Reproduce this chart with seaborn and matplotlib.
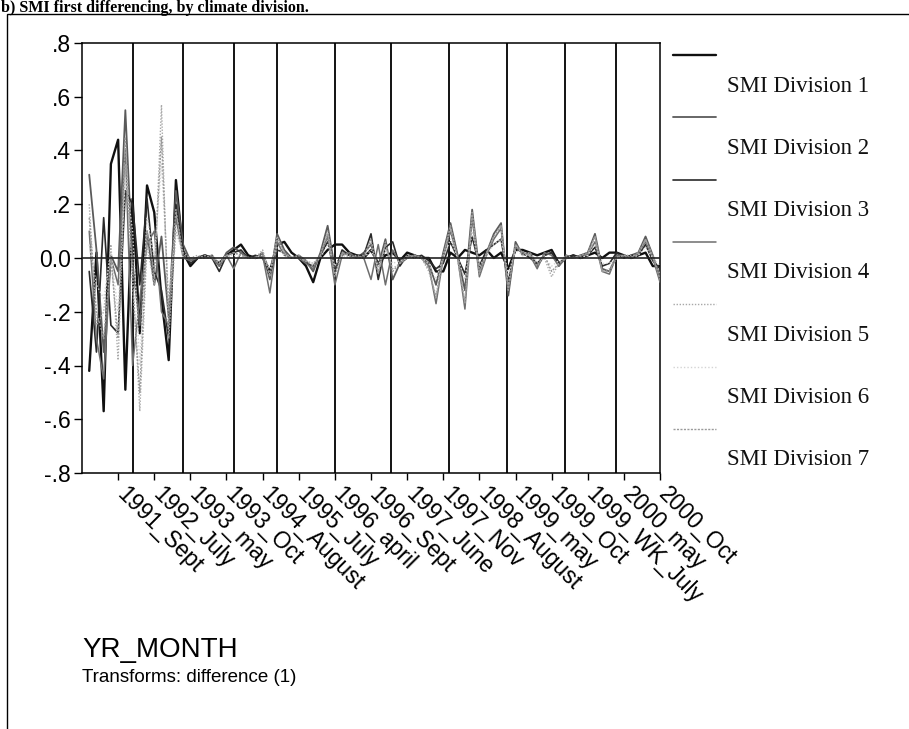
import numpy as np
import pandas as pd
import matplotlib
matplotlib.use("Agg")
import matplotlib.pyplot as plt
from matplotlib.lines import Line2D
from matplotlib.patches import Rectangle
import matplotlib.transforms as mtransforms
import seaborn as sns

# ---------------- data ----------------
divisions = ["SMI Division 1", "SMI Division 2", "SMI Division 3", "SMI Division 4",
             "SMI Division 5", "SMI Division 6", "SMI Division 7"]

tick_labels = ["1991_Sept", "1992_July", "1993_may", "1993_Oct", "1994_August",
               "1995_July", "1996_april", "1996_Sept", "1997_June", "1997_Nov",
               "1998_August", "1999_may", "1999_Oct", "1999_WK_July", "2000_may",
               "2000_Oct"]
tick_every = 5

ytick_vals = [0.8, 0.6, 0.4, 0.2, 0.0, -0.2, -0.4, -0.6, -0.8]
ytick_text = [".8", ".6", ".4", ".2", "0.0", "-.2", "-.4", "-.6", "-.8"]

# reference (year) lines, category positions
ref_lines = [7, 14, 21, 27, 35, 42.7, 50.8, 58.8, 66.8, 73.9]

# first differences (first value missing)
div1 = [-0.42, 0.02, -0.57, 0.35, 0.44, -0.49, 0.22, -0.28, 0.27, 0.17, -0.15, -0.38, 0.29, 0.02,
        -0.03, 0.00, 0.01, 0.00, -0.02, 0.01, 0.03, 0.05, 0.01, 0.00,
        0.01, -0.05, 0.05, 0.06, 0.02, 0.00, -0.03, -0.09, 0.00, 0.03,
        0.05, 0.05, 0.02, 0.01, 0.00, 0.03, -0.02, 0.01, 0.02, -0.01,
        0.02, 0.01, 0.00, 0.00, -0.05, -0.05, 0.02, 0.00, 0.03, 0.02,
        0.01, 0.03, 0.00, 0.02, -0.04, 0.03, 0.03, 0.02, 0.01, 0.02,
        0.03, -0.02, 0.00, 0.01, 0.00, 0.01, 0.02, 0.00, 0.02, 0.02,
        0.01, 0.00, 0.01, 0.02, -0.03, -0.03]
div2 = [0.31, 0.03, -0.35, 0.01, -0.05, 0.55, -0.02, -0.25, 0.10, -0.10, 0.08, -0.22, 0.25, 0.05,
        -0.01, 0.00, 0.00, 0.01, -0.03, 0.02, 0.04, 0.02, 0.00, 0.00,
        0.02, -0.08, 0.09, 0.03, 0.00, 0.01, -0.01, -0.05, 0.02, 0.12,
        -0.04, 0.02, 0.01, 0.00, 0.02, 0.05, -0.03, 0.07, -0.08, -0.02,
        0.00, 0.01, 0.00, -0.02, -0.10, 0.02, 0.13, 0.01, -0.12, 0.18,
        -0.05, 0.02, 0.09, 0.13, -0.14, 0.06, 0.01, 0.02, -0.03, 0.01,
        0.02, -0.03, 0.01, 0.00, 0.01, 0.02, 0.09, -0.04, -0.05, 0.01,
        0.00, 0.01, 0.02, 0.08, 0.01, -0.07]
div3 = [-0.05, -0.35, 0.15, -0.25, -0.28, 0.25, 0.20, -0.10, 0.22, -0.05, -0.12, -0.30, 0.20, 0.03,
        -0.02, 0.00, 0.01, 0.00, -0.05, 0.01, 0.02, 0.03, 0.00, 0.01,
        0.00, -0.06, 0.03, 0.02, 0.00, 0.00, -0.02, -0.03, 0.01, 0.06,
        -0.05, 0.03, 0.01, 0.01, 0.01, 0.09, -0.08, 0.04, 0.06, -0.03,
        0.01, 0.00, 0.01, -0.01, -0.04, -0.02, 0.06, 0.00, -0.06, 0.08,
        -0.03, 0.03, 0.05, 0.07, -0.09, 0.04, 0.02, 0.00, -0.02, 0.01,
        0.02, -0.02, 0.00, 0.01, 0.00, 0.01, 0.04, -0.03, -0.02, 0.02,
        0.00, 0.01, 0.01, 0.05, -0.01, -0.04]
div4 = [0.10, -0.30, -0.45, 0.00, -0.10, 0.40, -0.40, -0.15, 0.05, 0.10, -0.20, -0.25, 0.15, 0.00,
        -0.01, 0.00, 0.00, 0.00, -0.03, 0.01, -0.04, 0.02, 0.00, 0.00,
        0.01, -0.13, 0.06, 0.01, 0.00, 0.00, -0.02, -0.04, 0.01, 0.08,
        -0.10, 0.01, 0.02, 0.00, 0.00, -0.08, 0.05, -0.10, 0.03, -0.02,
        0.00, 0.01, 0.00, -0.03, -0.17, 0.00, 0.10, 0.00, -0.19, 0.15,
        -0.07, 0.01, 0.07, 0.11, -0.12, 0.04, 0.02, 0.01, -0.04, 0.02,
        0.01, -0.03, 0.00, 0.00, 0.01, 0.01, 0.06, -0.05, -0.06, 0.01,
        0.01, 0.00, 0.02, 0.06, 0.00, -0.09]
div5 = [0.20, -0.25, -0.20, 0.05, -0.38, 0.35, -0.05, -0.57, 0.05, -0.10, 0.57, -0.30, 0.10, 0.02,
        0.00, 0.01, 0.00, 0.01, -0.02, 0.00, 0.02, 0.01, 0.00, 0.00,
        0.03, -0.06, 0.08, 0.02, 0.00, 0.01, -0.01, -0.02, 0.01, 0.10,
        -0.06, 0.02, 0.00, 0.01, 0.00, 0.06, -0.05, 0.05, -0.04, -0.02,
        0.01, 0.00, 0.00, -0.05, -0.14, 0.01, 0.11, -0.01, -0.16, 0.16,
        -0.05, 0.02, 0.08, 0.12, -0.10, 0.05, 0.01, 0.02, -0.02, 0.00,
        -0.07, -0.02, 0.01, 0.00, 0.00, 0.01, 0.08, -0.05, -0.04, 0.00,
        0.01, 0.01, 0.01, 0.07, 0.00, -0.06]
div6 = [0.05, -0.10, -0.15, 0.02, -0.20, 0.30, 0.10, -0.40, 0.15, 0.00, 0.35, -0.15, 0.12, 0.00,
        0.00, 0.00, 0.00, 0.00, -0.01, 0.01, 0.01, 0.00, 0.00, 0.00,
        0.01, -0.04, 0.04, 0.01, 0.00, 0.00, -0.01, -0.02, 0.00, 0.05,
        -0.03, 0.01, 0.00, 0.00, 0.00, 0.03, -0.03, 0.03, -0.02, -0.01,
        0.00, 0.00, 0.00, -0.02, -0.08, 0.00, 0.07, 0.00, -0.08, 0.10,
        -0.03, 0.01, 0.05, 0.07, -0.06, 0.03, 0.01, 0.01, -0.01, 0.00,
        -0.03, -0.01, 0.00, 0.00, 0.00, 0.01, 0.05, -0.02, -0.02, 0.00,
        0.00, 0.00, 0.01, 0.04, 0.00, -0.03]
div7 = [0.15, -0.20, -0.30, 0.00, -0.30, 0.45, -0.10, -0.50, 0.10, -0.05, 0.45, -0.20, 0.18, 0.01,
        0.00, 0.00, 0.01, 0.00, -0.02, 0.01, 0.02, 0.01, 0.00, 0.00,
        0.02, -0.07, 0.07, 0.02, 0.00, 0.00, -0.01, -0.03, 0.01, 0.09,
        -0.07, 0.02, 0.01, 0.00, 0.01, 0.07, -0.06, 0.06, -0.05, -0.02,
        0.00, 0.01, 0.00, -0.04, -0.15, 0.01, 0.12, 0.00, -0.17, 0.17,
        -0.06, 0.02, 0.08, 0.12, -0.12, 0.05, 0.02, 0.01, -0.03, 0.01,
        -0.05, -0.02, 0.00, 0.00, 0.01, 0.02, 0.08, -0.05, -0.05, 0.00,
        0.01, 0.00, 0.02, 0.07, 0.01, -0.08]

series = [div1, div2, div3, div4, div5, div6, div7]

# ---------------- styles ----------------
colors = {divisions[0]: "#101010", divisions[1]: "#5a5a5a", divisions[2]: "#2a2a2a",
          divisions[3]: "#6e6e6e", divisions[4]: "#a8a8a8", divisions[5]: "#d4d4d4",
          divisions[6]: "#9a9a9a"}
widths = {divisions[0]: 1.7, divisions[1]: 1.3, divisions[2]: 1.2, divisions[3]: 1.1,
          divisions[4]: 1.0, divisions[5]: 1.0, divisions[6]: 1.0}
dashes = {divisions[0]: "", divisions[1]: "", divisions[2]: "", divisions[3]: "",
          divisions[4]: (1, 1.2), divisions[5]: (1, 1.5), divisions[6]: (1.5, 1)}

# ---------------- dataframe ----------------
rows = []
for name, vals in zip(divisions, series):
    for k, v in enumerate(vals):
        rows.append({"pos": k + 1, "value": v, "division": name})
df = pd.DataFrame(rows)

sns.set_theme(style="white")
plt.rcParams["font.family"] = ["Liberation Sans", "DejaVu Sans"]

fig = plt.figure(figsize=(9.09, 7.29), dpi=100)
W, H = 909.0, 729.0
ax = fig.add_axes([82 / W, 1 - 473 / H, (660 - 82) / W, (473 - 43) / H])

sns.lineplot(data=df, x="pos", y="value", hue="division", palette=colors,
             size="division", sizes=widths, style="division", dashes=dashes,
             legend=False, ax=ax, zorder=3)

for rl in ref_lines:
    ax.axvline(rl, color="black", lw=1.3, zorder=2)
ax.axhline(0, color="#222222", lw=1.2, zorder=4)

n_pos = len(div1)
ax.set_xlim(0, n_pos)
ax.set_ylim(-0.8, 0.8)

ax.set_yticks(ytick_vals)
ax.set_yticklabels(ytick_text, fontsize=16.5, color="black")
xt = [tick_every * (k + 1) for k in range(len(tick_labels))]
ax.set_xticks(xt)
ax.set_xticklabels(tick_labels, fontsize=16.5, rotation=-45, ha="left", va="top",
                   rotation_mode="anchor", color="black")
ax.tick_params(axis="y", direction="out", length=6, width=1, pad=2, left=True, color="black")
ax.tick_params(axis="x", direction="out", length=5, width=1, pad=2, bottom=True, color="black")
offset = mtransforms.ScaledTranslation(10 / 100, 0, fig.dpi_scale_trans)
for lab in ax.get_xticklabels():
    lab.set_transform(lab.get_transform() + offset)
ax.set_xlabel("")
ax.set_ylabel("")
for s in ax.spines.values():
    s.set_color("black")
    s.set_linewidth(1.1)
    s.set_visible(True)

# ---------------- legend (line above label) ----------------
line_y0 = 55
label_y0 = 86
step = 62.3
for k, name in enumerate(divisions):
    ly = 1 - (line_y0 + k * step) / H
    fig.add_artist(Line2D([673 / W, 716 / W], [ly, ly], color=colors[name],
                          lw=widths[name],
                          linestyle=(0, dashes[name]) if dashes[name] else "-"))
    fig.text(727 / W, 1 - (label_y0 + k * step) / H, name, fontsize=16.5,
             family=["Liberation Serif", "DejaVu Serif"], va="center", ha="left",
             color="#111111")

# ---------------- texts ----------------
fig.text(82 / W, 1 - 650 / H, "YR_MONTH", fontsize=20, va="center", ha="left", color="black")
fig.text(82 / W, 1 - 678 / H, "Transforms: difference (1)", fontsize=13.5, va="center",
         ha="left", color="black")
fig.text(1 / W, 1 - 12 / H, "b) SMI first differencing, by climate division.",
         fontsize=11.5, fontweight="bold", family=["Liberation Serif", "DejaVu Serif"],
         va="baseline", ha="left", color="black")

# outer frame
fig.add_artist(Rectangle((7.5 / W, -0.05), 1.0, 1 - 13.5 / H + 0.05, transform=fig.transFigure,
                         fill=False, edgecolor="black", lw=1.0))

fig.savefig("out.png", dpi=100)
